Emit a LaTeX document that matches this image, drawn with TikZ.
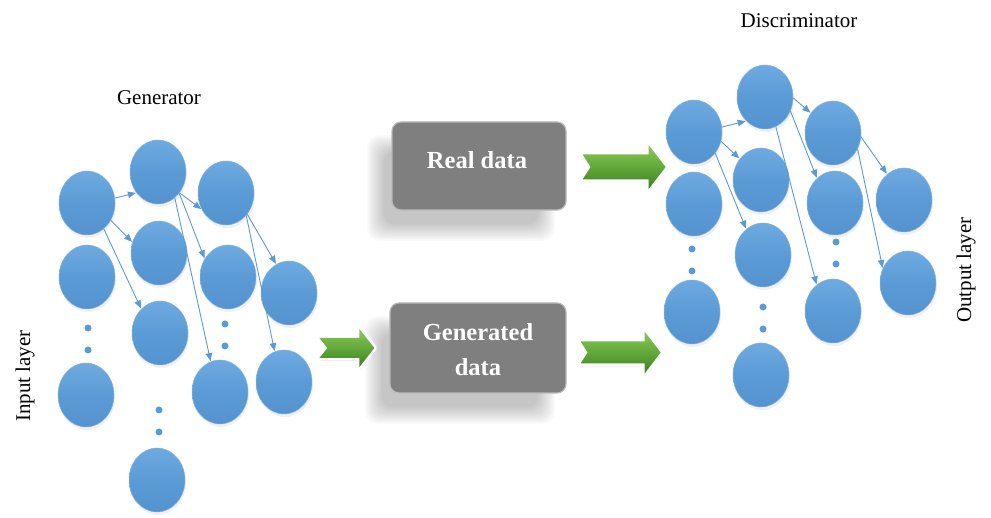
\documentclass[tikz,border=0pt]{standalone}
\usepackage{fontspec}
\setmainfont{Liberation Serif}
\usetikzlibrary{shapes.geometric,arrows.meta,shadows}

\definecolor{nodeblue}{RGB}{91,155,213}
\definecolor{nodetop}{RGB}{110,170,225}
\definecolor{nodebot}{RGB}{84,147,207}
\definecolor{boxgray}{RGB}{127,127,127}
\definecolor{boxedge}{RGB}{185,185,185}
\definecolor{greenlt}{RGB}{138,200,88}
\definecolor{greenmd}{RGB}{98,168,58}
\definecolor{greendk}{RGB}{62,126,36}

\pgfdeclarelayer{bg}
\pgfsetlayers{bg,main}

\tikzset{
  neuron/.style={ellipse, minimum width=56pt, minimum height=64pt, inner sep=0pt,
    top color=nodetop, bottom color=nodebot, middle color=nodeblue,
    draw=nodeblue!75!white, line width=0.5pt,
    drop shadow={shadow xshift=1pt, shadow yshift=-3pt, opacity=0.12}},
  ddot/.style={circle, fill=nodeblue, minimum size=7pt, inner sep=0pt},
  link/.style={draw=nodeblue, line width=0.9pt, -{Triangle[length=8pt,width=6.5pt]}, shorten >=0.5pt},
  databox/.style={rounded corners=9pt, fill=boxgray, draw=boxedge, line width=1.2pt,
    minimum width=174pt, minimum height=88pt, inner sep=0pt},
  boxtext/.style={text=white, font=\fontsize{24.5}{35}\selectfont\bfseries, align=center},
  title/.style={font=\fontsize{21}{25}\selectfont},
}

% block arrow with notched tail: #1 tail point, #2 length, #3 half shaft,
% #4 half head, #5 head length, #6 notch depth
\newcommand\greenarrow[6]{%
  \begin{scope}[shift={#1}]
    \path[fill=white, draw=white, line width=5pt, line join=round,
      drop shadow={shadow xshift=1pt, shadow yshift=-3pt, opacity=0.2}]
      (0,-#3) -- (#2-#5,-#3) -- (#2-#5,-#4) -- (#2,0) -- (#2-#5,#4)
      -- (#2-#5,#3) -- (0,#3) -- (#6,0) -- cycle;
    \path[top color=greenlt, bottom color=greendk, middle color=greenmd]
      (0,-#3) -- (#2-#5,-#3) -- (#2-#5,-#4) -- (#2,0) -- (#2-#5,#4)
      -- (#2-#5,#3) -- (0,#3) -- (#6,0) -- cycle;
  \end{scope}}

\begin{document}
\begin{tikzpicture}[x=1pt, y=-1pt]
\useasboundingbox (0,0) rectangle (991,518);

% ---------- generator ----------
\node[title] (gentitle) at (159,98) {Generator};
\node[title, rotate=90] (inlab) at (25,376) {Input layer};

\node[neuron] (g11) at (87,203) {};
\node[neuron] (g12) at (87,277) {};
\node[ddot]   (gd11) at (88,328) {};
\node[ddot]   (gd12) at (88,350) {};
\node[neuron] (g13) at (86,395) {};

\node[neuron] (g21) at (158,172) {};
\node[neuron] (g22) at (159,253) {};
\node[neuron] (g23) at (160,333) {};
\node[ddot]   (gd21) at (159,410) {};
\node[ddot]   (gd22) at (159,432) {};
\node[neuron] (g24) at (157,480) {};

\node[neuron] (g31) at (226,193) {};
\node[neuron] (g32) at (228,277) {};
\node[ddot]   (gd31) at (225,324) {};
\node[ddot]   (gd32) at (225,346) {};
\node[neuron] (g33) at (220,392) {};

\node[neuron] (g41) at (289,293) {};
\node[neuron] (g42) at (284,382) {};

\draw[link] (g11.10)  -- (g21.224);
\draw[link] (g11.324) -- (g22.158);
\draw[link] (g11.303) -- (g23.128);
\draw[link] (g21.316) -- (g31.214);
\draw[link] (g21.315) -- (g32.142);
\draw[link] (g21.303) -- (g33.107);
\draw[link] (g31.315) -- (g41.114);
\draw[link] (g31.312) -- (g42.107);

% ---------- discriminator ----------
\node[title] (distitle) at (799,21) {Discriminator};
\node[title, rotate=90] (outlab) at (966,270) {Output layer};

\node[neuron] (d11) at (694,132) {};
\node[neuron] (d12) at (694,204) {};
\node[ddot]   (dd11) at (692,249) {};
\node[ddot]   (dd12) at (692,271) {};
\node[neuron] (d13) at (692,312) {};

\node[neuron] (d21) at (765,97) {};
\node[neuron] (d22) at (761,180) {};
\node[neuron] (d23) at (763,255) {};
\node[ddot]   (dd21) at (763,307) {};
\node[ddot]   (dd22) at (763,329) {};
\node[neuron] (d24) at (761,375) {};

\node[neuron] (d31) at (833,133) {};
\node[neuron] (d32) at (835,203) {};
\node[ddot]   (dd31) at (836,242) {};
\node[ddot]   (dd32) at (836,264) {};
\node[neuron] (d33) at (833,311) {};

\node[neuron] (d41) at (904,200) {};
\node[neuron] (d42) at (908,283) {};

\draw[link] (d11.10)  -- (d21.232);
\draw[link] (d11.341) -- (d22.135);
\draw[link] (d11.315) -- (d23.123);
\draw[link] (d21.358) -- (d31.138);
\draw[link] (d21.331) -- (d32.126);
\draw[link] (d21.290) -- (d33.122);
\draw[link] (d31.352) -- (d41.123);
\draw[link] (d31.327) -- (d42.150);

% ---------- data boxes ----------
\node[databox] (real) at (479,166) {};
\node[boxtext] (realtxt) at (477,160) {Real data};
\node[databox, minimum width=176pt, minimum height=90pt] (gen) at (478,348) {};
\node[boxtext] (gentxt) at (478,350) {Generated\\data};

% soft shadows under the boxes
\begin{pgfonlayer}{bg}
  \foreach \b in {real,gen}{
    \foreach \e in {-8,-6,...,8}{
      \fill[black, opacity=0.028, rounded corners=12pt]
        ([xshift={(-16-(\e))*1pt}, yshift={(-22-(\e))*1pt}]\b.south west)
        rectangle ([xshift={(-20+(\e))*1pt}, yshift={(-22+(\e))*1pt}]\b.north east);
    }
  }
\end{pgfonlayer}

% ---------- block arrows ----------
\greenarrow{([xshift=-70pt]gen.west)}{55}{10}{19}{15}{8}
\greenarrow{([xshift=16pt, yshift=-1pt]real.east)}{83}{12.5}{22}{17}{8}
\greenarrow{([xshift=14pt, yshift=-4.5pt]gen.east)}{80}{11}{21}{16}{7}

\end{tikzpicture}
\end{document}
